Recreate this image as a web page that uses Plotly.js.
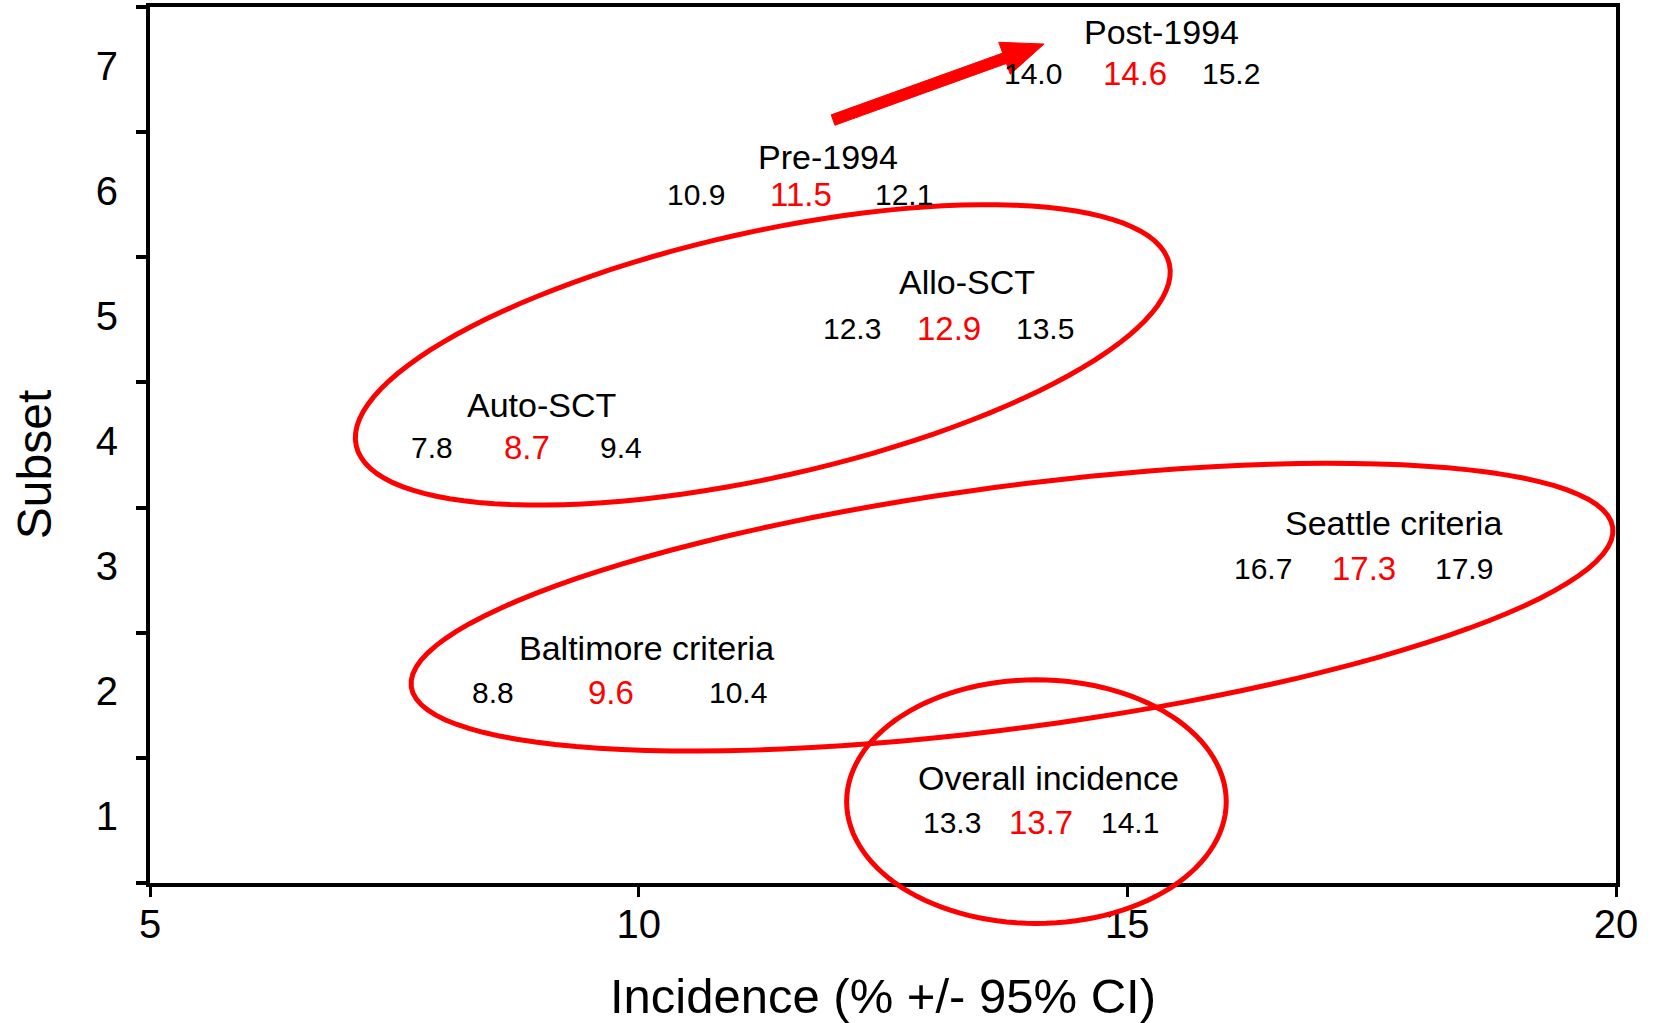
<!DOCTYPE html>
<html><head><meta charset="utf-8">
<script src="https://cdn.plot.ly/plotly-3.0.1.min.js"></script>
<style>html,body{margin:0;padding:0;background:#fff}#chart{width:1653px;height:1023px}</style>
</head><body><div id="chart"></div>
<script>
// ---- data ----
const subsetNames = ['Overall incidence','Baltimore criteria','Seattle criteria','Auto-SCT','Allo-SCT','Pre-1994','Post-1994'];
const subsetY = [1, 2, 3, 4, 5, 6, 7];
const lowerCI = [13.3, 8.8, 16.7, 7.8, 12.3, 10.9, 14.0];
const estimate = [13.7, 9.6, 17.3, 8.7, 12.9, 11.5, 14.6];
const upperCI = [14.1, 10.4, 17.9, 9.4, 13.5, 12.1, 15.2];
const xTickVals = [5, 10, 15, 20];
const yTickVals = [1, 2, 3, 4, 5, 6, 7];
const xRange = [5, 20];
const yRange = [0.5, 7.5];

// ---- label placement (pixel offsets from the estimate point) ----
const redDx   = [40.5, 11, 12, 15.5, 27, 16, 47];
const lowDx   = [-88.5, -118, -101, -95, -97, -105, -102];
const highDx  = [89.5, 127.6, 100, 94, 96, 102.5, 96];
const labelDx = [48, 46.6, 41.7, 30.3, 44.7, 42.5, 73];
const labelDy = [-42.4, -47, -47, -40, -37.4, -38, -38];
const rowDy   = [2, -3, -2, 2, 9, 0, 4];

const FONT = 'Arial, "Liberation Sans", sans-serif';
const RED = '#ff0000';

const annotations = [];
for (let i = 0; i < subsetY.length; i++) {
  const base = {x: estimate[i], y: subsetY[i], xref: 'x', yref: 'y', showarrow: false,
                xanchor: 'center', yanchor: 'middle'};
  annotations.push(Object.assign({}, base, {text: subsetNames[i], xshift: labelDx[i], yshift: -labelDy[i],
                     font: {family: FONT, size: 34, color: '#000'}}));
  annotations.push(Object.assign({}, base, {text: estimate[i].toFixed(1), xshift: redDx[i], yshift: -rowDy[i],
                     font: {family: FONT, size: 33, color: RED}}));
  annotations.push(Object.assign({}, base, {text: lowerCI[i].toFixed(1), xshift: redDx[i] + lowDx[i], yshift: -rowDy[i],
                     font: {family: FONT, size: 30, color: '#000'}}));
  annotations.push(Object.assign({}, base, {text: upperCI[i].toFixed(1), xshift: redDx[i] + highDx[i], yshift: -rowDy[i],
                     font: {family: FONT, size: 30, color: '#000'}}));
}
// y-axis title (placed as annotation to match the reference's offset)
annotations.push({text: 'Subset', textangle: -90, xref: 'paper', yref: 'paper', x: 0, y: 0.477,
                  xshift: -116, xanchor: 'center', yanchor: 'middle', showarrow: false,
                  font: {family: FONT, size: 48, color: '#000'}});

// ---- callout ellipses & arrow (pixel geometry anchored at data positions) ----
const fx = v => (v - xRange[0]) / (xRange[1] - xRange[0]);
const fy = v => (v - yRange[0]) / (yRange[1] - yRange[0]);
const callouts = [
  {ax: 11.27, ay: 4.72, a: 416.6, b: 122.6, theta: 12.6},
  {ax: 13.82, ay: 2.704, a: 606, b: 120.9, theta: 7.55},
  {ax: 14.07, ay: 1.15, a: 189.8, b: 121.8, theta: 0}
];
function ellipsePath(a, b, thDeg) {
  const th = thDeg * Math.PI / 180, n = 120, pts = [];
  for (let k = 0; k < n; k++) {
    const t = 2 * Math.PI * k / n;
    const px = a * Math.cos(t) * Math.cos(th) - b * Math.sin(t) * Math.sin(th);
    const py = a * Math.cos(t) * Math.sin(th) + b * Math.sin(t) * Math.cos(th);
    pts.push((k ? 'L' : 'M') + px.toFixed(2) + ',' + py.toFixed(2));
  }
  return pts.join(' ') + ' Z';
}
const shapes = callouts.map(c => ({
  type: 'path', xref: 'x domain', yref: 'y domain', xsizemode: 'pixel', ysizemode: 'pixel',
  xanchor: fx(c.ax), yanchor: fy(c.ay), path: ellipsePath(c.a, c.b, c.theta),
  line: {color: RED, width: 5}, fillcolor: 'rgba(0,0,0,0)', layer: 'above'
}));

// arrow: tip anchored at a data position, geometry in px (y up)
const arrow = {tipX: 14.148, tipY: 7.204, dx: -211, dy: -76, head: 42, headW: 17, shaftW: 5.5};
(function () {
  const len = Math.hypot(arrow.dx, arrow.dy);
  const ux = -arrow.dx / len, uy = -arrow.dy / len, nx = -uy, ny = ux;
  const bx = -arrow.head * ux, by = -arrow.head * uy;
  const P = [
    [0, 0],
    [bx + arrow.headW * nx, by + arrow.headW * ny],
    [bx + arrow.shaftW * nx, by + arrow.shaftW * ny],
    [arrow.dx + arrow.shaftW * nx, arrow.dy + arrow.shaftW * ny],
    [arrow.dx - arrow.shaftW * nx, arrow.dy - arrow.shaftW * ny],
    [bx - arrow.shaftW * nx, by - arrow.shaftW * ny],
    [bx - arrow.headW * nx, by - arrow.headW * ny]
  ];
  shapes.push({
    type: 'path', xref: 'x domain', yref: 'y domain', xsizemode: 'pixel', ysizemode: 'pixel',
    xanchor: fx(arrow.tipX), yanchor: fy(arrow.tipY),
    path: P.map((p, k) => (k ? 'L' : 'M') + p[0].toFixed(2) + ',' + p[1].toFixed(2)).join(' ') + ' Z',
    line: {color: RED, width: 1}, fillcolor: RED, layer: 'above'
  });
})();

const traces = [{
  type: 'scatter', mode: 'markers', x: estimate, y: subsetY,
  marker: {size: 1, color: 'rgba(0,0,0,0)'}, hoverinfo: 'skip', showlegend: false
}];

const layout = {
  width: 1653, height: 1023,
  margin: {l: 150, r: 37, t: 7, b: 140},
  paper_bgcolor: '#fff', plot_bgcolor: '#fff',
  showlegend: false,
  font: {family: FONT, color: '#000'},
  xaxis: {
    range: xRange, tickvals: xTickVals, ticktext: xTickVals.map(String),
    ticks: 'outside', ticklen: 10, tickwidth: 3, tickcolor: '#000',
    showline: true, linewidth: 4, linecolor: '#000', mirror: true,
    showgrid: false, zeroline: false,
    tickfont: {family: FONT, size: 40, color: '#000'},
    ticklabelstandoff: -7,
    title: {text: 'Incidence (% +/- 95% CI)', font: {family: FONT, size: 49, color: '#000'}, standoff: 35}
  },
  yaxis: {
    range: yRange, tickvals: yTickVals, ticktext: yTickVals.map(String),
    ticks: 'outside', ticklen: 10, tickcolor: 'rgba(0,0,0,0)',
    minor: {tick0: 0.5, dtick: 1, ticks: 'outside', ticklen: 10, tickwidth: 4, tickcolor: '#000', showgrid: false},
    showline: true, linewidth: 4, linecolor: '#000', mirror: true,
    showgrid: false, zeroline: false,
    tickfont: {family: FONT, size: 40, color: '#000'},
    ticklabelstandoff: 10, ticklabelshift: -4
  },
  annotations: annotations,
  shapes: shapes
};

Plotly.newPlot('chart', traces, layout, {displayModeBar: false, staticPlot: true});
</script>
</body></html>
